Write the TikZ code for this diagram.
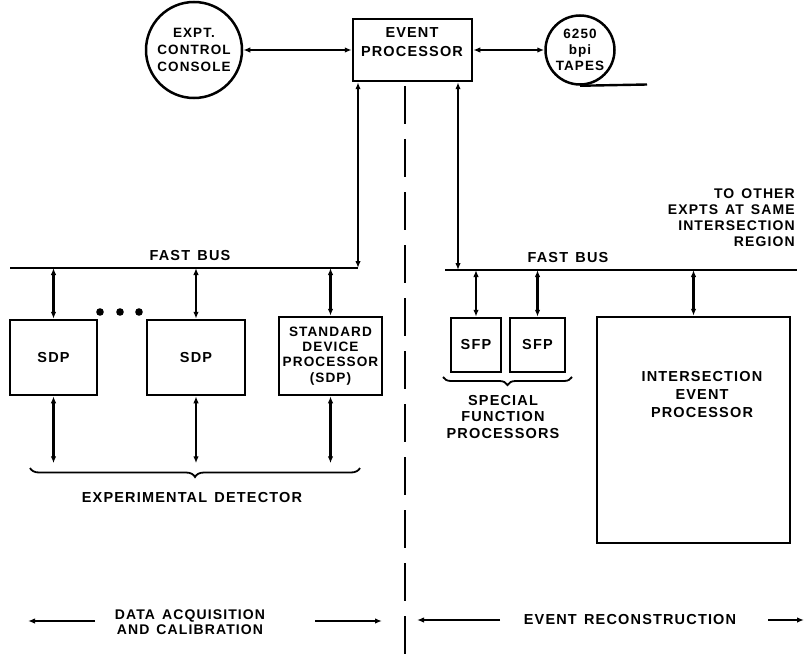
\documentclass[tikz,border=0pt]{standalone}
\usepackage{fontspec}
\setmainfont{Liberation Sans}[LetterSpace=8,WordSpace=1.4]
\usetikzlibrary{arrows.meta,decorations.pathreplacing}
\tikzset{
  lbl/.style={font=\bfseries\fontsize{14.5}{16.5}\selectfont, align=center, inner sep=0pt},
  box/.style={draw, line width=2.5pt, inner sep=0pt, font=\bfseries\fontsize{14.5}{16.5}\selectfont, align=center},
  ring/.style={draw, circle, line width=2.5pt, inner sep=0pt, font=\bfseries\fontsize{13.5}{17}\selectfont, align=center},
  conn/.style={line width=2.4pt},
  tip/.tip={Latex[length=7pt,width=5.5pt]},
  dbl/.style={conn, tip-tip},
  sgl/.style={conn, -tip},
  sep/.style={line width=2.6pt, dash pattern=on 38pt off 15pt},
  brc/.style={line width=1.8pt, decorate, decoration={brace, mirror, amplitude=9pt}},
}
\begin{document}
\begin{tikzpicture}[x=1pt,y=-1pt]
\useasboundingbox (0,0) rectangle (806,666);
\fill[white] (0,0) rectangle (806,666);

% top row
\node[ring, minimum size=96pt] (console) at (194,50) {EXPT.\\CONTROL\\CONSOLE};
\node[box, minimum width=119pt, minimum height=62pt] (ep) at (412.5,50) {};
\node[lbl, font=\bfseries\fontsize{14.5}{19}\selectfont] (eptxt) at (412,42) {EVENT\\PROCESSOR};
\node[ring, minimum size=69pt, font=\bfseries\fontsize{13.5}{16}\selectfont] (tape) at (580,50) {6250\\bpi\\TAPES};
\coordinate (tapeend) at (647,84.5);
\draw[conn] (tape.south) -- (tapeend);
\draw[dbl] (console.east) -- (ep.west);
\draw[dbl] (ep.east) -- (tape.west);

% buses
\coordinate (lbusL) at (10,268);
\coordinate (lbusR) at (358,268);
\coordinate (rbusL) at (445,270);
\coordinate (rbusR) at (797,270);
\draw[conn] (lbusL) -- (lbusR);
\draw[conn] (rbusL) -- (rbusR);
\node[lbl] (fb1) at (190,256) {FAST BUS};
\node[lbl] (fb2) at (568,258) {FAST BUS};
\draw[dbl] (ep.south -| lbusR) -- (lbusR);
\coordinate (rdrop) at (458,270);
\draw[dbl] (ep.south -| rdrop) -- (rdrop);

% separator
\coordinate (sepT) at (405,86);
\coordinate (sepB) at (405,666);
\draw[sep] (sepT) -- (sepB);

% left side processors
\node[box, minimum width=87pt, minimum height=75pt] (sdp1) at (53.5,357.5) {SDP};
\node[box, minimum width=98pt, minimum height=75pt] (sdp2) at (196,357.5) {SDP};
\node[box, minimum width=103pt, minimum height=78pt, font=\bfseries\fontsize{13.6}{15.3}\selectfont] (sdp3) at (330.5,356) {STANDARD\\DEVICE\\PROCESSOR\\(SDP)};
\foreach \i in {1,2,3} {
  \draw[dbl] (sdp\i.north |- lbusL) -- (sdp\i.north);
  \coordinate (det\i) at ([yshift=-67pt]sdp\i.south);
  \draw[dbl] (sdp\i.south) -- (det\i);
}
\fill (100,312) circle (3.8pt) (120,312) circle (3.8pt) (139,312) circle (3.8pt);
\coordinate (brL) at (30,468);
\coordinate (brR) at (360,468);
\draw[brc] (brL) -- (brR);
\node[lbl] (expdet) at (192,498) {EXPERIMENTAL DETECTOR};

% right side processors
\node[box, minimum width=50pt, minimum height=54pt] (sfp1) at (476,345) {SFP};
\node[box, minimum width=55pt, minimum height=54pt] (sfp2) at (537.5,345) {SFP};
\draw[dbl] (sfp1.north |- rbusL) -- (sfp1.north);
\draw[dbl] (sfp2.north |- rbusL) -- (sfp2.north);
\coordinate (sbrL) at (443,377);
\coordinate (sbrR) at (572,377);
\draw[brc, decoration={amplitude=8pt}] (sbrL) -- (sbrR);
\node[lbl] (sfptxt) at (503,417) {SPECIAL\\FUNCTION\\PROCESSORS};
\node[box, minimum width=193pt, minimum height=226pt] (iep) at (693.5,430) {};
\node[lbl, font=\bfseries\fontsize{14.5}{18}\selectfont] (ieptxt) at (702,395) {INTERSECTION\\EVENT\\PROCESSOR};
\draw[dbl] (iep.north |- rbusL) -- (iep.north);
\node[lbl, align=right, anchor=north east, font=\bfseries\fontsize{14}{16}\selectfont] (other) at (795,189) {TO OTHER\\EXPTS AT SAME\\INTERSECTION\\REGION};

% bottom legend
\node[lbl, font=\bfseries\fontsize{14}{14.5}\selectfont] (daq) at (190,622) {DATA ACQUISITION\\AND CALIBRATION};
\coordinate (a1) at (28,621); \coordinate (a2) at (95,621);
\coordinate (a3) at (315,621); \coordinate (a4) at (382,621);
\draw[sgl] (a2) -- (a1);
\draw[sgl] (a3) -- (a4);
\node[lbl] (rec) at (630,620) {EVENT RECONSTRUCTION};
\coordinate (b1) at (417,620); \coordinate (b2) at (500,620);
\coordinate (b3) at (768,620); \coordinate (b4) at (804,620);
\draw[sgl] (b2) -- (b1);
\draw[sgl] (b3) -- (b4);
\end{tikzpicture}
\end{document}
